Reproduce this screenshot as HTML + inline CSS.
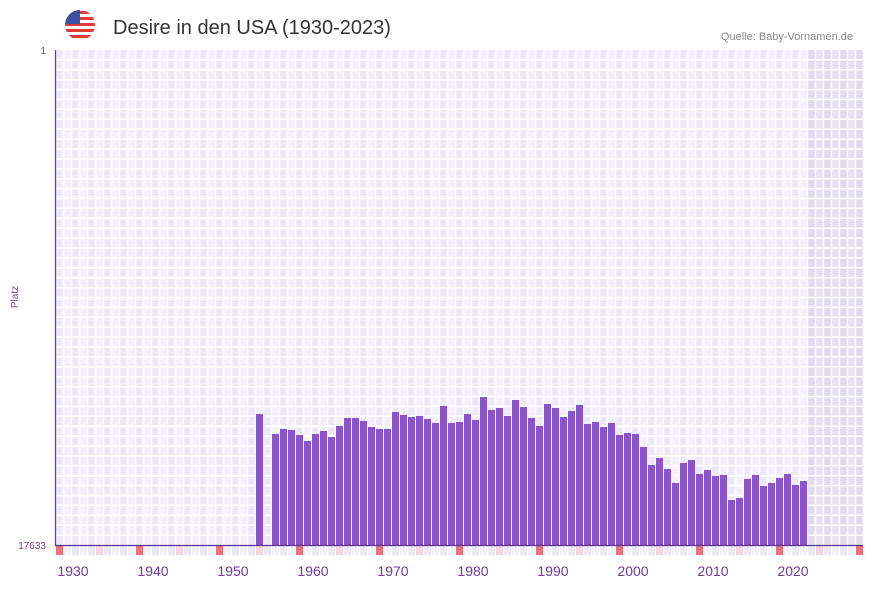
<!DOCTYPE html>
<html><head><meta charset="utf-8"><style>
body{margin:0;background:#fff;font-family:"Liberation Sans",sans-serif;}
</style></head><body>
<svg id="c" width="873" height="587" xmlns="http://www.w3.org/2000/svg">
<g>
<clipPath id="fc"><circle cx="80" cy="25" r="15"/></clipPath>
<g clip-path="url(#fc)">
<rect x="65" y="10" width="30" height="30" fill="#fff"/>
<rect x="65" y="11" width="30" height="3" fill="#e03c3c"/>
<rect x="65" y="17" width="30" height="3" fill="#e03c3c"/>
<rect x="65" y="23" width="30" height="3" fill="#e03c3c"/>
<rect x="65" y="29" width="30" height="3" fill="#e03c3c"/>
<rect x="65" y="35" width="30" height="3" fill="#e03c3c"/>
<rect x="65" y="10" width="15" height="14" fill="#3f51a5"/>
</g></g>
<text x="113" y="34" font-size="20" fill="#333">Desire in den USA (1930-2023)</text>
<text x="853" y="40" font-size="11" fill="#888" text-anchor="end">Quelle: Baby-Vornamen.de</text>
<text x="18" y="297" font-size="10" fill="#7040a0" text-anchor="middle" transform="rotate(-90 18 297)">Platz</text>
<g id="grid"></g><g id="bars"></g><g id="strip"></g><g id="labels"></g>
<line x1="55.5" y1="50" x2="55.5" y2="546" stroke="#6a3fa0" stroke-width="1.3"/>
<line x1="55" y1="545.5" x2="863" y2="545.5" stroke="#5a3590" stroke-width="1.3"/>
<text x="46" y="54" font-size="10" fill="#7040a0" text-anchor="end">1</text>
<text x="46" y="549" font-size="10" fill="#7040a0" text-anchor="end">17633</text>
</svg>
<script>
const years=[1953,1955,1956,1957,1958,1959,1960,1961,1962,1963,1964,1965,1966,1967,1968,1969,1970,1971,1972,1973,1974,1975,1976,1977,1978,1979,1980,1981,1982,1983,1984,1985,1986,1987,1988,1989,1990,1991,1992,1993,1994,1995,1996,1997,1998,1999,2000,2001,2002,2003,2004,2005,2006,2007,2008,2009,2010,2011,2012,2013,2014,2015,2016,2017,2018,2019,2020,2021];
const ranks=[12967,13679,13501,13537,13715,13928,13679,13572,13786,13394,13109,13109,13216,13430,13501,13501,12895,13001,13073,13037,13145,13287,12682,13287,13252,12967,13180,12361,12824,12753,13037,12468,12718,13109,13394,12611,12753,13073,12860,12647,13323,13252,13430,13287,13715,13643,13679,14142,14783,14534,14926,15424,14712,14605,15104,14961,15175,15139,16030,15959,15282,15139,15531,15424,15247,15104,15496,15353];
const tickYears=[1930,1940,1950,1960,1970,1980,1990,2000,2010,2020];
const NS="http://www.w3.org/2000/svg";
const x0=56,colW=8,y0=50,y1=545,rMin=1,rMax=17633,startYear=1928,nCols=101,shadeFrom=2022;
function xs(yr){return x0+(yr-startYear)*colW;}
function ys(r){return y0+(r-rMin)/(rMax-rMin)*(y1-y0);}
function mk(tag,a,parent){const e=document.createElementNS(NS,tag);for(const k in a)e.setAttribute(k,a[k]);parent.appendChild(e);return e;}
const grid=document.getElementById('grid');
for(let i=0;i<nCols;i++){
  const yr=startYear+i;const shaded=yr>=shadeFrom;
  const fill=shaded?(i%2?'#e6e2ef':'#e1dcec'):(i%2?'#f3f0fb':'#ede8f8');
  const r=mk('rect',{x:xs(yr),y:y0,width:colW,height:y1-y0,fill:fill},grid);
  
  
}
for(let i=0;i<=nCols;i++){mk('line',{x1:x0+i*colW-0.5,y1:y0,x2:x0+i*colW-0.5,y2:y1,stroke:'#fff','stroke-width':1.5},grid);}
for(let k=1;k<50;k++){const yy=y0+k*(y1-y0)/50;mk('line',{x1:x0,y1:yy,x2:x0+nCols*colW,y2:yy,stroke:'#fff','stroke-width':1.5},grid);}
const bars=document.getElementById('bars');
years.forEach((yr,i)=>{
  const t=ys(ranks[i]);
  const b=mk('rect',{x:xs(yr),y:t,width:colW-1,height:y1-t,fill:'#8a55c8'},bars);
  
  
});
const strip=document.getElementById('strip');
for(let i=0;i<nCols;i++){
  const yr=startYear+i;let fill=i%2?'#f3f0fb':'#ede8f8';
  if(i%10===0)fill='#e8747c';else if(i%10===5)fill='#f5d5de';
  const s=mk('rect',{x:xs(yr),y:546,width:colW-1,height:9,fill:fill},strip);
  
  
}
const labels=document.getElementById('labels');
tickYears.forEach(yr=>{
  const t=mk('text',{x:xs(yr)+1,y:576,'font-size':14,fill:'#6a3fa0','text-anchor':'middle'},labels);
  t.textContent=yr;
  
  
});
</script>
</body></html>
